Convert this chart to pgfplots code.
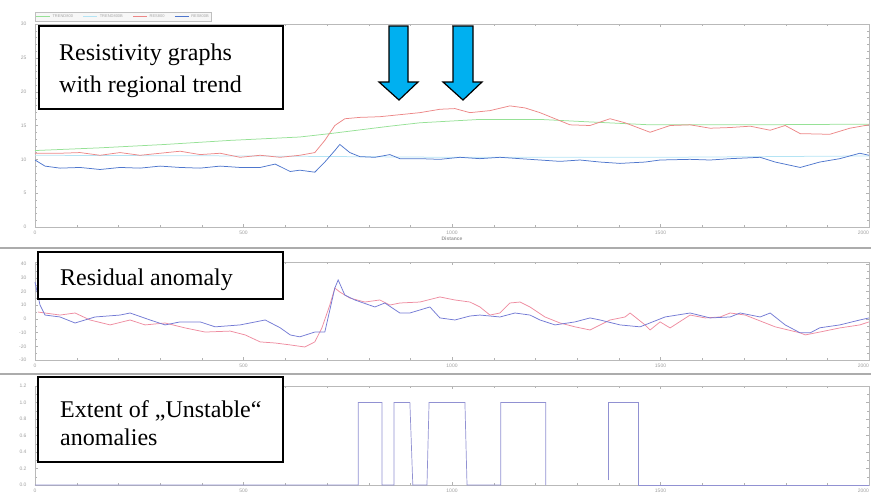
\documentclass[border=0pt]{standalone}
\usepackage{fontspec}
\setmainfont{Liberation Serif}
\newfontfamily\tickfont{Liberation Sans}
\usepackage{pgfplots}
\pgfplotsset{compat=1.18}
\definecolor{ResBlue}{RGB}{78,118,205}
\definecolor{ResRed}{RGB}{236,135,135}
\definecolor{TrendGreen}{RGB}{150,225,150}
\definecolor{TrendCyan}{RGB}{180,228,244}
\definecolor{AnoBlue}{RGB}{115,122,212}
\definecolor{AnoRed}{RGB}{238,140,160}
\definecolor{Pulse}{RGB}{145,145,210}
\definecolor{ArrowBlue}{HTML}{00B0F0}

\pgfplotsset{
  panel/.style={
    scale only axis, width=834pt, anchor=south west,
    xmin=0, xmax=2000, xtick={0,500,...,2000}, minor x tick num=4,
    xticklabels={0,500,1000,1500,{\makebox[0pt][r]{2000}}},
    axis line style={gray!55}, tick style={gray!60},
    major tick length=3pt, minor tick length=1.6pt,
    tick label style={font=\tickfont\fontsize{5}{5}\selectfont, text=gray!75},
    yticklabel style={xshift=-5pt},
    /pgf/number format/assume math mode=true,
    /pgf/number format/1000 sep={},
    clip=false,
  },
}

\begin{document}
\begin{tikzpicture}
\useasboundingbox (0,0) rectangle (871pt,-493pt);
\clip (0,0) rectangle (871pt,-493pt);

% resistivity with regional trend
\begin{axis}[panel, at={(35pt,-227pt)}, height=203pt,
  ymin=0, ymax=30, ytick={0,5,...,30}, minor y tick num=4,
  xlabel={\textbf{Distance}},
  xlabel style={font=\tickfont\fontsize{5}{5}\selectfont, text=gray!80, yshift=4pt},
  legend style={at={(0,1)}, anchor=south west, yshift=2.5pt, legend columns=4,
    font=\tickfont\fontsize{4}{4}\selectfont, text=gray!70, draw=gray!50, fill=gray!6,
    inner sep=0.6pt, row sep=0pt, /tikz/every even column/.append style={column sep=8pt}},
  legend image code/.code={\draw[#1] (0pt,0pt) -- (14pt,0pt);}]
\addplot[TrendGreen, line width=0.75pt] coordinates {
  (0,11.3)(156,11.7)(312,12.2)(468,12.8)(635,13.3)(707,13.8)(851,14.9)(923,15.4)
  (1067,15.9)(1211,15.9)(1307,15.6)(1475,15.1)(1715,15.1)(2000,15.2)};
\addlegendentry{TREND800}
\addplot[TrendCyan, line width=0.75pt] coordinates {
  (0,10.6)(500,10.5)(1000,10.3)(1500,10.3)(2000,10.5)};
\addlegendentry{TREND800B}
\addplot[ResRed, line width=0.75pt] coordinates {
  (0,10.9)(60,10.9)(108,11.0)(156,10.6)(204,11.0)(252,10.6)(300,10.9)(348,11.2)
  (396,10.7)(444,10.9)(492,10.3)(540,10.6)(588,10.3)(635,10.6)(671,11.0)(695,12.8)
  (719,15.0)(743,16.0)(779,16.2)(827,16.3)(875,16.6)(923,16.9)(971,17.4)(1007,17.5)
  (1043,16.9)(1091,17.2)(1139,17.9)(1175,17.6)(1211,16.9)(1247,16.0)(1283,15.1)
  (1331,15.0)(1379,16.0)(1415,15.4)(1475,14.0)(1523,15.0)(1571,15.1)(1619,14.6)
  (1667,14.7)(1715,14.9)(1763,14.3)(1799,15.0)(1835,13.8)(1906,13.7)(1954,14.6)(2000,15.1)};
\addlegendentry{RES800}
\addplot[ResBlue, line width=0.75pt] coordinates {
  (0,9.9)(24,9.0)(60,8.7)(108,8.8)(156,8.5)(204,8.8)(252,8.7)(300,9.0)(348,8.8)
  (396,8.7)(444,9.0)(492,8.8)(540,8.8)(576,9.3)(612,8.2)(635,8.4)(671,8.1)(695,9.6)
  (719,11.3)(731,12.2)(755,11.0)(779,10.4)(815,10.3)(851,10.7)(875,10.1)(923,10.1)
  (971,10.0)(1019,10.3)(1067,10.1)(1115,10.3)(1163,10.1)(1211,9.9)(1259,9.7)(1307,9.9)
  (1355,9.6)(1403,9.4)(1463,9.6)(1499,9.9)(1571,10.0)(1619,9.9)(1667,10.1)(1739,10.3)
  (1775,9.6)(1835,8.8)(1882,9.6)(1930,10.1)(1978,10.9)(2000,10.6)};
\addlegendentry{RES800B}
\end{axis}

% residual anomaly
\begin{axis}[panel, at={(35pt,-360pt)}, height=98pt,
  ymin=-30, ymax=41.5, ytick={-30,-20,...,40}, minor y tick num=1]
\addplot[AnoRed, line width=0.75pt] coordinates {
  (7,5.0)(60,2.8)(96,4.3)(132,-0.8)(180,-4.4)(228,-0.8)(264,-4.4)(312,-3.0)(360,-6.6)
  (408,-9.6)(468,-8.9)(504,-11.7)(540,-16.8)(576,-17.6)(612,-19.0)(647,-20.5)(671,-16.8)
  (688,-6.6)(707,10.1)(719,22.5)(731,19.6)(755,15.2)(791,12.3)(827,13.8)(851,10.1)
  (875,11.6)(923,12.3)(971,16.0)(1007,13.8)(1043,12.3)(1067,8.7)(1091,2.8)(1115,4.3)
  (1139,11.6)(1163,12.3)(1187,8.7)(1223,1.4)(1259,-3.0)(1295,-5.8)(1331,-8.1)(1379,-0.8)
  (1415,1.4)(1427,4.3)(1463,-4.4)(1475,-8.1)(1499,-2.2)(1523,-6.6)(1571,2.8)(1607,0.7)
  (1643,1.4)(1667,4.3)(1703,2.8)(1775,-5.8)(1835,-10.2)(1847,-11.7)(1882,-9.6)
  (1930,-6.6)(1978,-4.4)(2000,-2.2)};
\addplot[AnoBlue, line width=0.75pt] coordinates {
  (0,26.9)(12,10.1)(24,2.8)(60,1.4)(96,-3.0)(144,1.4)(204,2.8)(228,4.3)(276,-0.8)
  (312,-4.4)(348,-2.2)(396,-2.2)(432,-5.8)(492,-4.4)(552,-0.8)(588,-6.5)(612,-11.7)
  (635,-13.1)(671,-9.6)(695,-9.6)(719,22.5)(727,28.4)(743,17.4)(767,13.8)(815,8.7)
  (839,11.6)(875,4.3)(899,4.3)(923,6.5)(947,8.7)(971,0.7)(1007,-0.8)(1043,2.1)
  (1067,2.8)(1115,1.4)(1151,4.3)(1187,2.8)(1211,-0.8)(1247,-4.4)(1295,-2.2)(1331,0.7)
  (1355,-0.8)(1403,-4.4)(1451,-5.8)(1511,1.4)(1571,4.3)(1619,0.7)(1667,1.4)(1691,4.3)
  (1739,1.4)(1763,4.3)(1799,-4.4)(1835,-10.2)(1859,-10.2)(1882,-6.5)(1930,-4.4)
  (1978,-0.8)(2000,0.7)};
\end{axis}

% extent of unstable anomalies
\begin{axis}[panel, at={(35pt,-485pt)}, height=99pt,
  ymin=0, ymax=1.2, ytick={0,0.2,...,1.2}, minor y tick num=1,
  yticklabel style={/pgf/number format/.cd, fixed, fixed zerofill, precision=1}]
\addplot[Pulse, line width=0.7pt] coordinates {
  (0,0)(775,0)(775,1)(832,1)(832,0)(861,0)(861,1)(899,1)(906,0)(940,0)(945,1)
  (1031,1)(1036,0)(1117,0)(1117,1)(1225,1)(1225,0)};
\addplot[Pulse, line width=0.7pt] coordinates {
  (1376,0.06)(1376,1)(1448,1)(1448,0)(2000,0)};
\end{axis}

% window separators
\draw[gray!65, line width=1.5pt] (0,-248pt) -- (871pt,-248pt);
\draw[gray!65, line width=1.5pt] (0,-374pt) -- (871pt,-374pt);

% annotation boxes
\draw[black, line width=1.3pt, fill=white] (39pt,-26pt) rectangle (283pt,-109pt);
\node[anchor=base west, inner sep=0pt, font=\fontsize{24}{24}\selectfont] at (59pt,-60pt) {Resistivity graphs};
\node[anchor=base west, inner sep=0pt, font=\fontsize{24}{24}\selectfont] at (59pt,-92pt) {with regional trend};

\draw[black, line width=1.3pt, fill=white] (38pt,-252pt) rectangle (283pt,-299pt);
\node[anchor=base west, inner sep=0pt, font=\fontsize{24}{24}\selectfont] at (60pt,-285pt) {Residual anomaly};

\draw[black, line width=1.3pt, fill=white] (38pt,-377pt) rectangle (283pt,-462pt);
\node[anchor=base west, inner sep=0pt, font=\fontsize{24}{24}\selectfont] at (60pt,-417pt) {Extent of „Unstable“};
\node[anchor=base west, inner sep=0pt, font=\fontsize{24}{24}\selectfont] at (60pt,-445pt) {anomalies};

% arrows
\draw[black, line width=1.2pt, fill=ArrowBlue, line join=miter]
  (389pt,-26pt) -- (408pt,-26pt) -- (408pt,-82pt) -- (418pt,-82pt) -- (399pt,-100pt)
  -- (379pt,-82pt) -- (389pt,-82pt) -- cycle;
\draw[black, line width=1.2pt, fill=ArrowBlue, line join=miter]
  (453pt,-26pt) -- (473pt,-26pt) -- (473pt,-82pt) -- (482pt,-82pt) -- (463pt,-100pt)
  -- (443pt,-82pt) -- (453pt,-82pt) -- cycle;
\end{tikzpicture}
\end{document}
